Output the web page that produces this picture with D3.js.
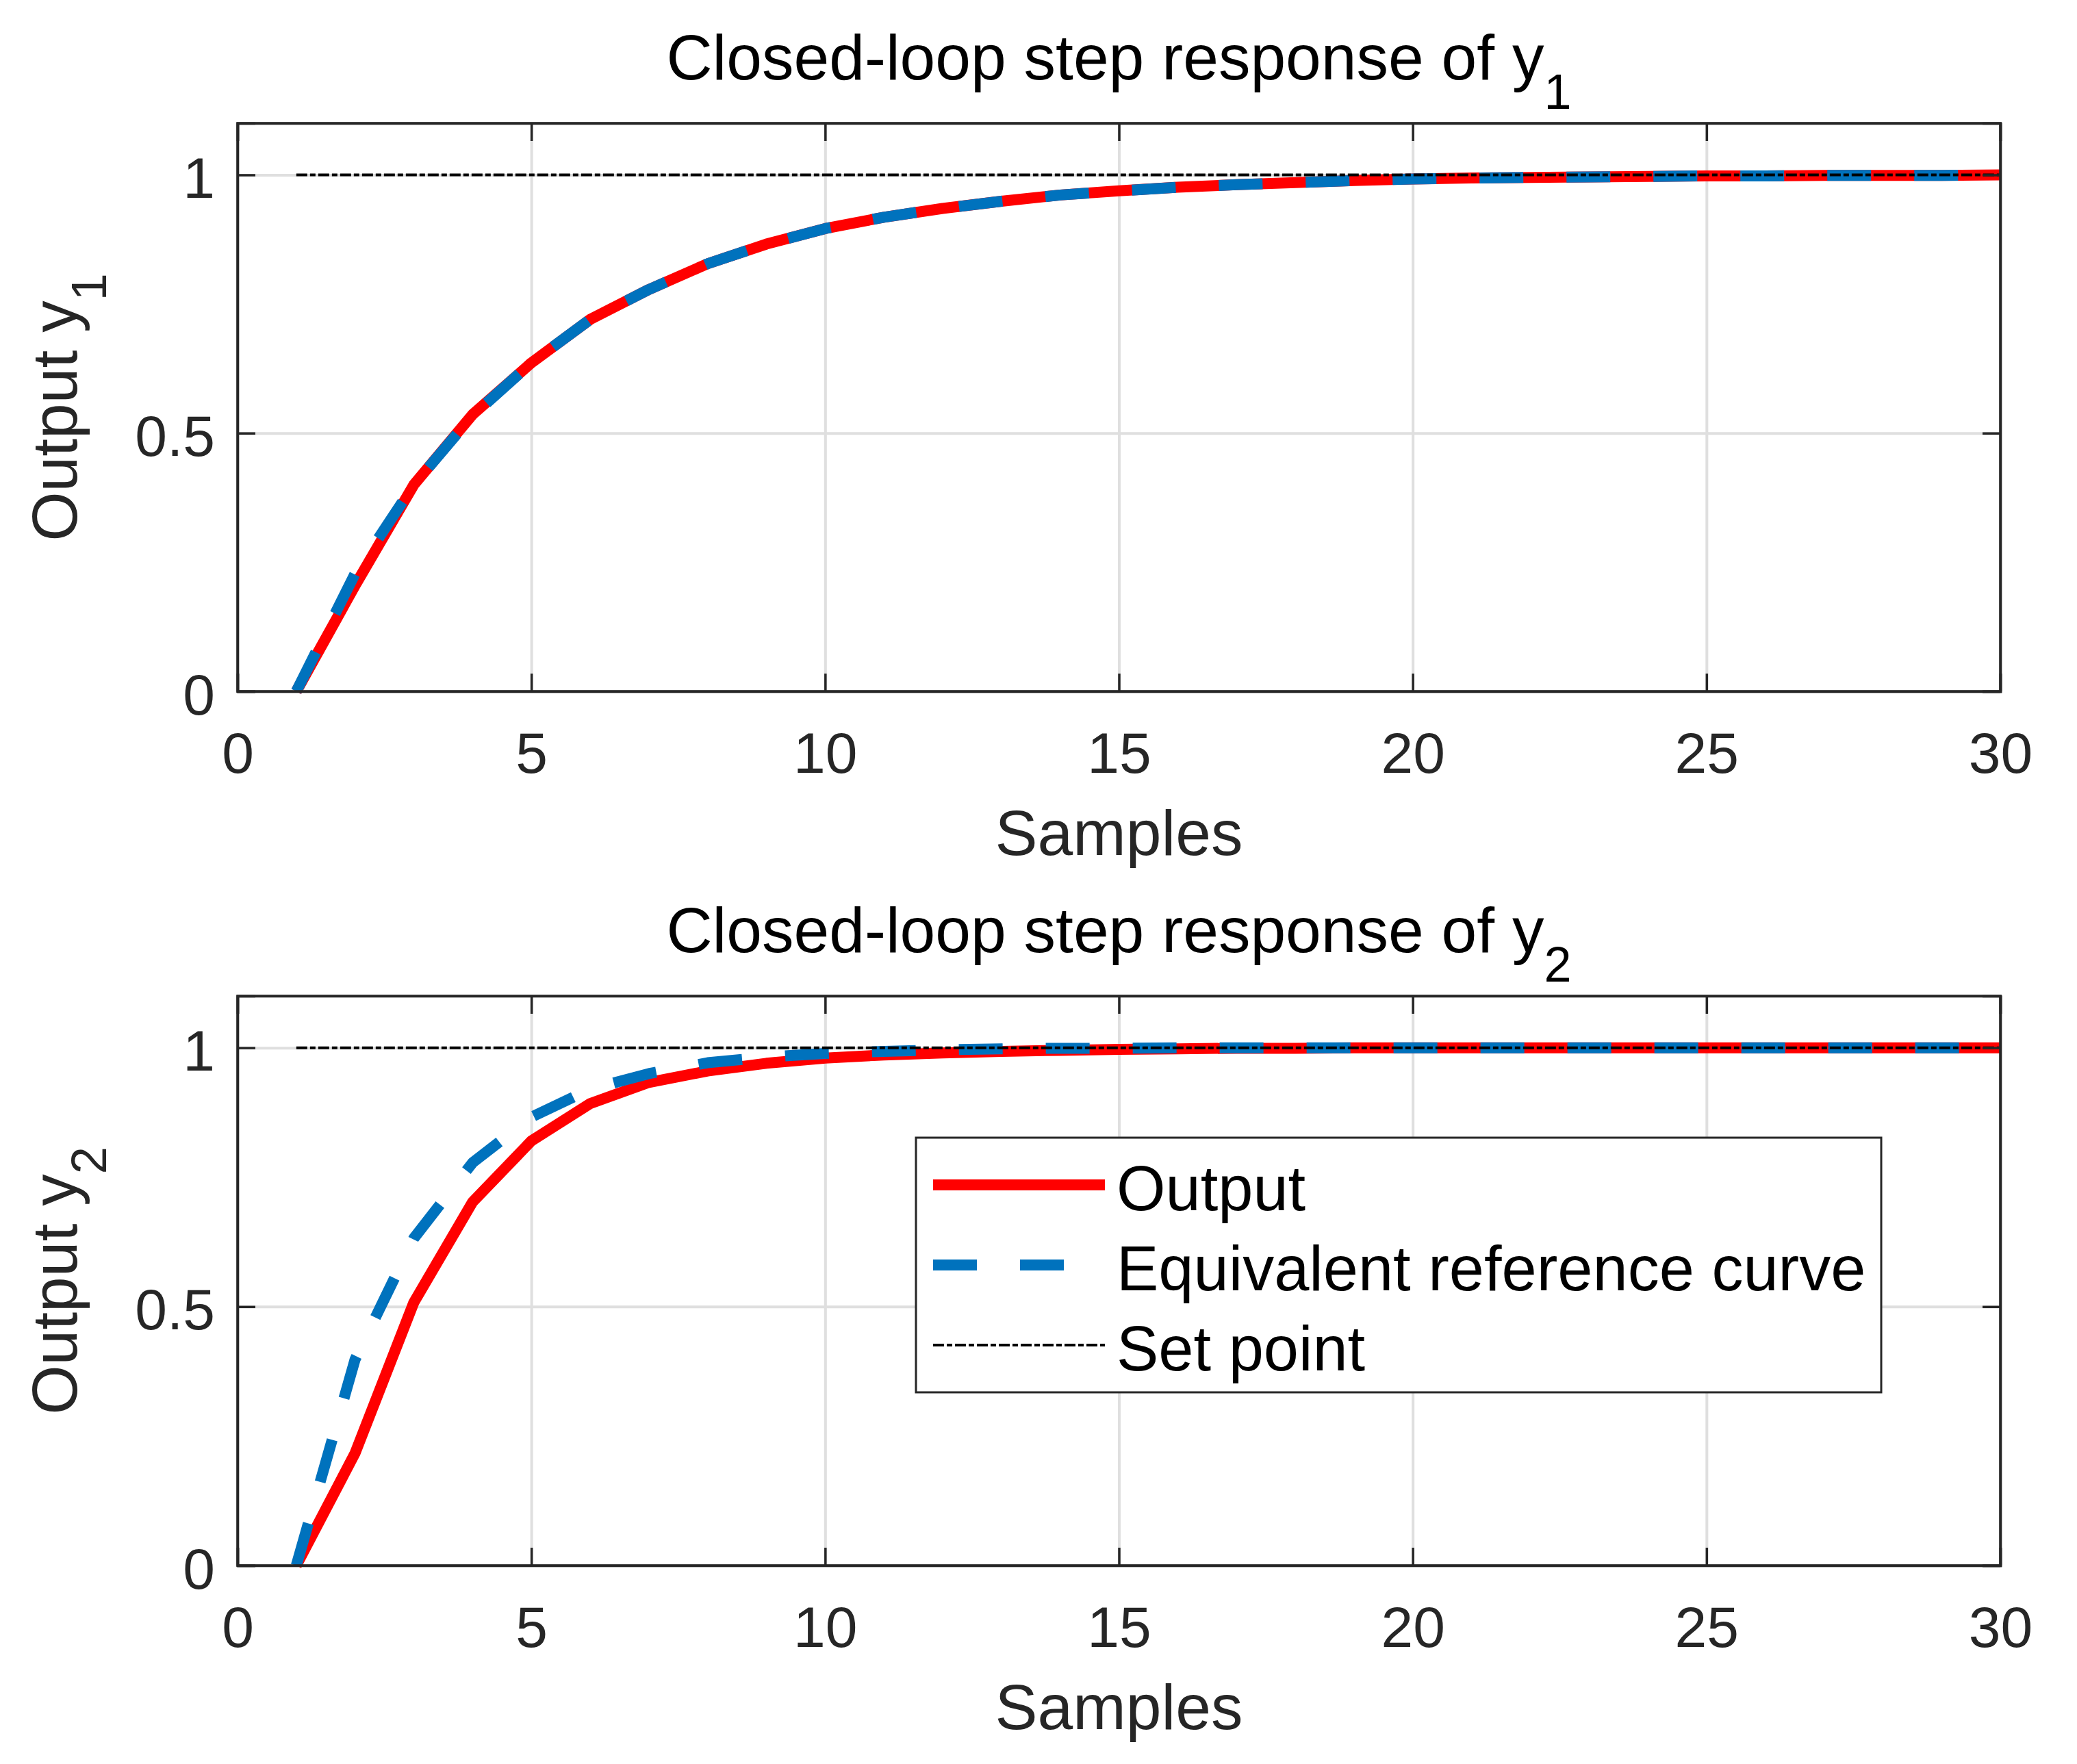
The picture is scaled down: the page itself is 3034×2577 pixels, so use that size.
<!DOCTYPE html>
<html>
<head>
<meta charset="utf-8">
<script src="https://cdn.jsdelivr.net/npm/d3@7/dist/d3.min.js"></script>
<style>
html,body{margin:0;padding:0;background:#fff;}
svg{display:block;}
text{font-family:"Liberation Sans", Arial, Helvetica, sans-serif;}
</style>
</head>
<body>
<svg id="chart" width="3034" height="2577"></svg>
<script>
// ---------------- DATA ----------------
const samples = d3.range(1, 31); // 1..30
const y1Output = [0, 0.205, 0.400, 0.536, 0.636, 0.720, 0.778, 0.828, 0.866, 0.896,
                  0.918, 0.935, 0.949, 0.961, 0.969, 0.976, 0.981, 0.985, 0.989, 0.992,
                  0.994, 0.995, 0.996, 0.997, 0.998, 0.998, 0.999, 0.999, 0.999, 1.000];
const y1Reference = [0, 0.228, 0.400, 0.534, 0.636, 0.720, 0.778, 0.828, 0.866, 0.896,
                     0.918, 0.935, 0.949, 0.961, 0.969, 0.976, 0.981, 0.985, 0.989, 0.992,
                     0.994, 0.995, 0.996, 0.997, 0.998, 0.998, 0.999, 0.999, 0.999, 1.000];
const y2Output = [0, 0.217, 0.508, 0.702, 0.820, 0.892, 0.933, 0.955, 0.970, 0.980,
                  0.986, 0.990, 0.993, 0.995, 0.997, 0.998, 0.999, 0.999, 1.000, 1.000,
                  1.000, 1.000, 1.000, 1.000, 1.000, 1.000, 1.000, 1.000, 1.000, 1.000];
const y2Reference = [0, 0.398, 0.632, 0.778, 0.866, 0.920, 0.950, 0.971, 0.982, 0.989,
                     0.993, 0.996, 0.998, 0.999, 0.999, 1.000, 1.000, 1.000, 1.000, 1.000,
                     1.000, 1.000, 1.000, 1.000, 1.000, 1.000, 1.000, 1.000, 1.000, 1.000];
const setPoint = samples.map(() => 1);
const xTicks = [0, 5, 10, 15, 20, 25, 30];
const yTicks = [0, 0.5, 1];
const xDomain = [0, 30];
const yDomain = [0, 1.1];
const legendLabels = ["Output", "Equivalent reference curve", "Set point"];
const panels = [
  {sub: "1", out: y1Output, ref: y1Reference, legend: false},
  {sub: "2", out: y2Output, ref: y2Reference, legend: true}
];

// ---------------- STYLE / LAYOUT ----------------
const axColor = "#262626";
const gridColor = "#dfdfdf";
const redColor = "#ff0000";
const blueColor = "#0072bd";
const left = 347, right = 2922;
const panelTops = [180, 1455], panelBottoms = [1010, 2287];
const tickLen = 26;
const svg = d3.select("#chart");
svg.append("rect").attr("width", 3034).attr("height", 2577).attr("fill", "#fff");

const styles = [
  {color: redColor, width: 16, dash: null},
  {color: blueColor, width: 16, dash: "64,63"},
  {color: "#000", width: 4, dash: "16,4,8,4"}
];

panels.forEach((p, i) => {
  const top = panelTops[i], bottom = panelBottoms[i];
  const w = right - left, h = bottom - top;
  const x = d3.scaleLinear().domain(xDomain).range([0, w]);
  const y = d3.scaleLinear().domain(yDomain).range([h, 0]);
  const g = svg.append("g").attr("transform", `translate(${left},${top})`);

  // grid
  const gx = g.append("g").attr("transform", `translate(0,${h})`)
    .call(d3.axisBottom(x).tickValues(xTicks).tickSize(-h).tickFormat(""));
  const gy = g.append("g")
    .call(d3.axisLeft(y).tickValues(yTicks).tickSize(-w).tickFormat(""));
  [gx, gy].forEach(a => {
    a.select(".domain").remove();
    a.selectAll("line").attr("stroke", gridColor).attr("stroke-width", 4);
  });

  // lines
  const line = d3.line().x((d, k) => x(samples[k])).y(d => y(d));
  [p.out, p.ref, setPoint].forEach((vals, k) => {
    g.append("path").datum(vals)
      .attr("d", line)
      .attr("fill", "none")
      .attr("stroke", styles[k].color)
      .attr("stroke-width", styles[k].width)
      .attr("stroke-dasharray", styles[k].dash)
      .attr("stroke-linejoin", "round")
      .attr("stroke-linecap", "butt");
  });

  // axes (inward ticks, box)
  const axB = g.append("g").attr("transform", `translate(0,${h})`)
    .call(d3.axisBottom(x).tickValues(xTicks).tickSize(-tickLen).tickFormat(d3.format("d")));
  const axT = g.append("g")
    .call(d3.axisTop(x).tickValues(xTicks).tickSize(-tickLen).tickFormat(""));
  const axL = g.append("g")
    .call(d3.axisLeft(y).tickValues(yTicks).tickSize(-tickLen).tickFormat(d => d === 0.5 ? "0.5" : d3.format("d")(d)));
  const axR = g.append("g").attr("transform", `translate(${w},0)`)
    .call(d3.axisRight(y).tickValues(yTicks).tickSize(-tickLen).tickFormat(""));
  [axB, axT, axL, axR].forEach(a => {
    a.select(".domain").attr("stroke", axColor).attr("stroke-width", 3.5);
    a.selectAll(".tick line").attr("stroke", axColor).attr("stroke-width", 3.5);
  });
  axB.selectAll("text").attr("y", 119).attr("dy", null)
    .attr("font-size", 84).attr("fill", axColor).attr("font-family", null);
  axL.selectAll("text").attr("x", -33).attr("dy", null).attr("y", 33)
    .attr("font-size", 84).attr("fill", axColor).attr("font-family", null);
  g.append("rect").attr("width", w).attr("height", h)
    .attr("fill", "none").attr("stroke", axColor).attr("stroke-width", 3.5);

  // title
  const t = g.append("text").attr("x", w / 2).attr("y", -64)
    .attr("text-anchor", "middle").attr("font-size", 93).attr("fill", "#000");
  t.append("tspan").text("Closed-loop step response of y");
  t.append("tspan").attr("font-size", 72).attr("dy", 43).text(p.sub);

  // x label
  g.append("text").attr("x", w / 2).attr("y", h + 239)
    .attr("text-anchor", "middle").attr("font-size", 93).attr("fill", axColor)
    .text("Samples");

  // y label
  const yl = g.append("text")
    .attr("transform", `translate(${111.6 - left},${h / 2}) rotate(-90)`)
    .attr("text-anchor", "middle").attr("font-size", 93).attr("fill", axColor);
  yl.append("tspan").text("Output y");
  yl.append("tspan").attr("font-size", 72).attr("dy", 43).text(p.sub);

  // legend
  if (p.legend) {
    const lx = 1338, ly = 1662, lw = 1410, lh = 372;
    const lg = svg.append("g");
    lg.append("rect").attr("x", lx).attr("y", ly).attr("width", lw).attr("height", lh)
      .attr("fill", "#fff").attr("stroke", axColor).attr("stroke-width", 3);
    const rowY = [1731, 1848, 1965];
    legendLabels.forEach((lab, k) => {
      lg.append("line").attr("x1", 1363).attr("x2", 1614)
        .attr("y1", rowY[k]).attr("y2", rowY[k])
        .attr("stroke", styles[k].color).attr("stroke-width", styles[k].width)
        .attr("stroke-dasharray", styles[k].dash);
      lg.append("text").attr("x", 1631).attr("y", rowY[k] + 37)
        .attr("font-size", 92).attr("fill", "#000").text(lab);
    });
  }
});
</script>
</body>
</html>
